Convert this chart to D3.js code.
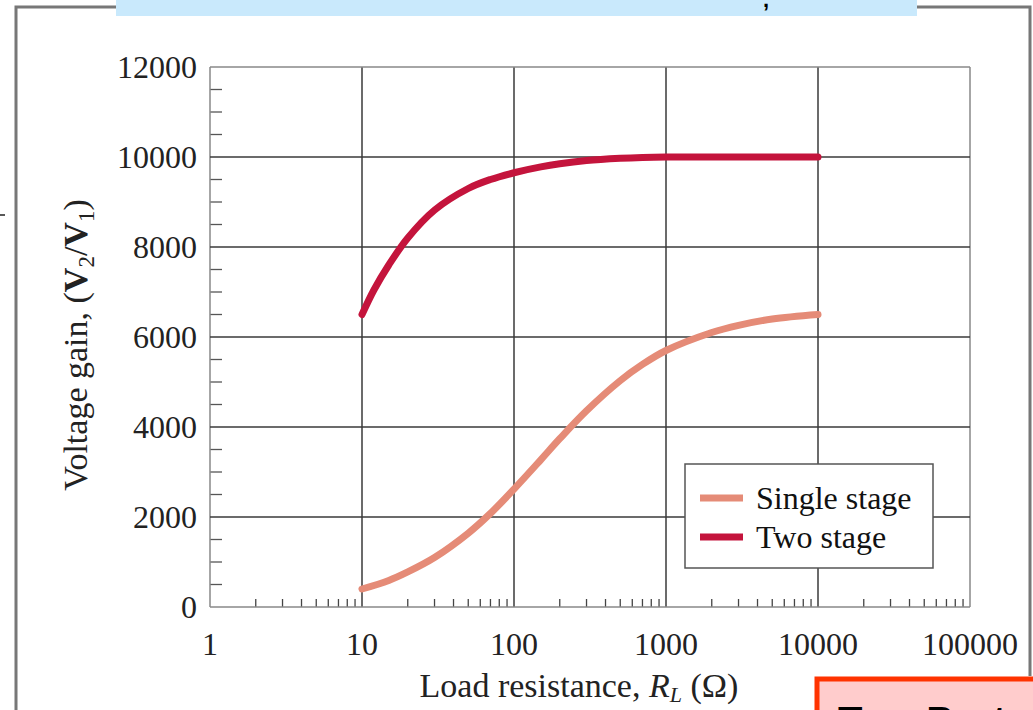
<!DOCTYPE html>
<html lang="en">
<head>
<meta charset="UTF-8">
<title>voltage gain</title>
<style>
  body { margin: 0; background: #fff; }
  svg text { font-family: "Liberation Serif", "DejaVu Serif", serif; fill: #222; }
</style>
</head>
<body>
<script src="https://cdn.jsdelivr.net/npm/d3@7"></script>
<script>
// load resistance values (ohm) and gains
const singleR    = [10, 15, 20, 30, 50, 70, 100, 150, 200, 300, 500, 700, 1000, 2000, 3000, 5000, 10000];
const singleGain = [400, 590, 780, 1100, 1640, 2080, 2620, 3270, 3740, 4360, 5030, 5390, 5700, 6100, 6260, 6400, 6500];
const twoR       = [10, 12, 15, 20, 30, 50, 70, 100, 150, 200, 300, 500, 700, 1000, 3000, 10000];
const twoGain    = [6500, 7050, 7600, 8200, 8820, 9300, 9500, 9650, 9780, 9850, 9920, 9970, 9990, 10000, 10000, 10000];
const seriesNames = ['Single stage', 'Two stage'];
const xTicks = [1, 10, 100, 1000, 10000, 100000];
const yTicks = [0, 2000, 4000, 6000, 8000, 10000, 12000];

const W = 1033, H = 710;
const colors = ['#e58b77', '#c4143c'];
const plotL = 210, plotR = 970, plotT = 67, plotB = 607;

let svg = d3.select('body').append('svg')
    .attr('width', W).attr('height', H);

// page decorations around the figure
svg.append('path')
    .attr('d', 'M16,710 L16,7 L1030,7 L1030,676')
    .attr('fill', 'none').attr('stroke', '#777').attr('stroke-width', 3);
svg.append('rect').attr('x', 116).attr('y', 0).attr('width', 801).attr('height', 16)
    .attr('fill', '#c9e9fc');
svg.append('text').attr('x', 763).attr('y', 7).attr('font-size', 22)
    .style('font-family', 'Liberation Sans, sans-serif').style('fill', '#000')
    .style('font-weight', 'bold').text(',');
svg.append('line').attr('x1', 0).attr('x2', 5).attr('y1', 215).attr('y2', 215)
    .attr('stroke', '#222').attr('stroke-width', 1.5);
svg.append('rect').attr('x', 817).attr('y', 679).attr('width', 230).attr('height', 50)
    .attr('fill', '#ffcccc').attr('stroke', '#ff3300').attr('stroke-width', 5);
svg.append('text').attr('x', 838).attr('y', 735).attr('font-size', 40)
    .style('font-family', 'Liberation Sans, sans-serif').style('fill', '#000')
    .style('font-weight', 'bold').text('Two Port');

let x = d3.scaleLog().domain([1, 100000]).range([plotL, plotR]);
let y = d3.scaleLinear().domain([0, 12000]).range([plotB, plotT]);

// minor ticks
let minorX = [];
for (let d = 1; d < 100000; d *= 10) {
    for (let k = 2; k <= 9; k++) minorX.push(d * k);
}
svg.append('g').selectAll('line').data(minorX).enter().append('line')
    .attr('x1', d => x(d)).attr('x2', d => x(d))
    .attr('y1', plotB).attr('y2', plotB - 8)
    .attr('stroke', '#444').attr('stroke-width', 1.3);

let minorY = d3.range(500, 12000, 500).filter(v => v % 2000 !== 0);
svg.append('g').selectAll('line').data(minorY).enter().append('line')
    .attr('x1', plotL).attr('x2', plotL + 12)
    .attr('y1', d => y(d)).attr('y2', d => y(d))
    .attr('stroke', '#555').attr('stroke-width', 1.3);

// grid
svg.append('g').selectAll('line').data(xTicks).enter().append('line')
    .attr('x1', d => x(d)).attr('x2', d => x(d))
    .attr('y1', plotT).attr('y2', plotB)
    .attr('stroke', d => (d === 1 || d === 100000) ? '#888' : '#3a3a3a').attr('stroke-width', 1.5);
svg.append('g').selectAll('line').data(yTicks).enter().append('line')
    .attr('x1', plotL).attr('x2', plotR)
    .attr('y1', d => y(d)).attr('y2', d => y(d))
    .attr('stroke', d => (d === 0 || d === 12000) ? '#888' : '#3a3a3a').attr('stroke-width', 1.5);

// tick labels
svg.append('g').selectAll('text').data(xTicks).enter().append('text')
    .attr('x', d => x(d)).attr('y', 655)
    .attr('text-anchor', 'middle').attr('font-size', 32)
    .text(d => d);
svg.append('g').selectAll('text').data(yTicks).enter().append('text')
    .attr('x', 197).attr('y', d => y(d) + 11)
    .attr('text-anchor', 'end').attr('font-size', 32)
    .text(d => d);

// axis titles
let xt = svg.append('text').attr('x', 579).attr('y', 697)
    .attr('text-anchor', 'middle').attr('font-size', 34);
xt.append('tspan').text('Load resistance, ');
xt.append('tspan').style('font-style', 'italic').text('R');
xt.append('tspan').style('font-style', 'italic').attr('font-size', 22).attr('dy', 5).text('L');
xt.append('tspan').attr('dy', -5).text(' (Ω)');

let yt = svg.append('text')
    .attr('transform', 'translate(87,' + 345 + ') rotate(-90)')
    .attr('text-anchor', 'middle').attr('font-size', 34);
yt.append('tspan').text('Voltage gain, (');
yt.append('tspan').style('font-weight', 'bold').text('V');
yt.append('tspan').attr('font-size', 23).attr('dy', 7).text('2');
yt.append('tspan').attr('dy', -7).text('/');
yt.append('tspan').style('font-weight', 'bold').text('V');
yt.append('tspan').attr('font-size', 23).attr('dy', 7).text('1');
yt.append('tspan').attr('dy', -7).text(')');

// curves
let line = d3.line()
    .x(d => x(d[0])).y(d => y(d[1]))
    .curve(d3.curveCatmullRom.alpha(0.5));
let series = [d3.zip(singleR, singleGain), d3.zip(twoR, twoGain)];
svg.append('g').selectAll('path').data(series).enter().append('path')
    .attr('d', line)
    .attr('fill', 'none')
    .attr('stroke', (d, i) => colors[i])
    .attr('stroke-width', 7)
    .attr('stroke-linecap', 'round');

// legend
let lg = svg.append('g');
lg.append('rect').attr('x', 685).attr('y', 464).attr('width', 248).attr('height', 104)
    .attr('fill', '#fff').attr('stroke', '#555').attr('stroke-width', 1.5);
seriesNames.forEach((name, i) => {
    let yy = 498 + i * 39;
    lg.append('line').attr('x1', 700).attr('x2', 743).attr('y1', yy).attr('y2', yy)
        .attr('stroke', colors[i]).attr('stroke-width', 7);
    lg.append('text').attr('x', 756).attr('y', yy + 11).attr('font-size', 32)
        .style('fill', '#111').text(name);
});
</script>
</body>
</html>
